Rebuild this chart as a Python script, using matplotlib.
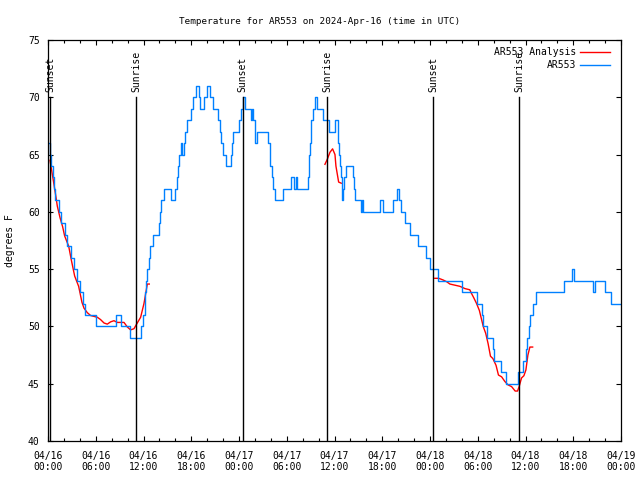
import matplotlib
matplotlib.use('Agg')
import matplotlib.pyplot as plt
import numpy as np

# hours since 2024-04-16 00:00 UTC
obs_hours = [0.0, 0.25, 0.42, 0.6, 0.75, 0.92, 1.35, 1.68, 2.09, 2.43, 2.95, 3.27, 3.68, 4.05, 4.36, 4.69,
             5.99, 8.5, 9.13, 10.3, 11.73, 11.98, 12.15, 12.23, 12.31, 12.48, 12.65, 12.81, 13.15, 13.9,
             14.07, 14.24, 14.57, 15.41, 15.91, 16.16, 16.33, 16.5, 16.66, 16.83, 17.08, 17.25, 17.45,
             17.92, 18.17, 18.6, 18.93, 19.1, 19.64, 20.0, 20.35, 20.7, 21.4, 21.6, 21.78, 21.95, 22.2,
             22.36, 22.95, 23.12, 23.28, 24.0, 24.3, 24.45, 24.7, 25.5, 25.65, 25.8, 26.05, 26.2, 27.7,
             27.85, 27.95, 28.1, 28.3, 28.55, 29.5, 30.5, 30.85, 31.15, 31.35, 32.7, 32.85, 32.95, 33.1,
             33.3, 33.5, 33.85, 34.6, 35.3, 36.05, 36.4, 36.5, 36.6, 36.7, 36.8, 36.9, 37.0, 37.1, 37.25,
             37.5, 38.35, 38.45, 38.55, 39.3, 39.4, 39.55, 41.7, 42.05, 43.4, 43.9, 44.15, 44.3, 44.85,
             45.5, 46.5, 47.45, 48.0, 49.05, 52.0, 53.85, 54.5, 54.7, 55.2, 55.95, 56.1, 56.9, 57.6,
             59.0, 59.7, 60.05, 60.2, 60.45, 60.6, 60.9, 61.3, 64.8, 65.9, 66.15, 68.5, 68.75, 70.0,
             70.7, 71.95]
obs_temps = [66, 65, 64, 63, 62, 61, 60, 59, 58, 57, 56, 55, 54, 53, 52, 51,
             50, 51, 50, 49, 50, 51, 52, 53, 54, 55, 56, 57, 58, 59,
             60, 61, 62, 61, 62, 63, 64, 65, 66, 65, 66, 67, 68,
             69, 70, 71, 70, 69, 70, 71, 70, 69, 68, 67, 66, 65, 65,
             64, 65, 66, 67, 68, 69, 70, 69, 68, 69, 68, 66, 67, 66,
             65, 64, 63, 62, 61, 62, 63, 62, 63, 62, 63, 65, 66, 68,
             69, 70, 69, 68, 67, 68, 67, 66, 65, 64, 63, 62, 61, 62, 63,
             64, 63, 62, 61, 60, 61, 60, 61, 60, 61, 62, 61, 60, 59,
             58, 57, 56, 55, 54, 53, 52, 51, 50, 49, 48, 47, 46, 45,
             46, 47, 48, 49, 50, 51, 52, 53, 54, 55, 54, 53, 54, 53,
             52, 52]

ana1_hours = [0.25, 0.42, 0.75, 1.0, 1.17, 1.51, 1.84, 2.09, 2.6, 2.93, 3.35, 3.85, 4.27, 4.52, 4.94,
              5.36, 6.2, 6.6, 7.04, 7.45, 7.87, 8.29, 8.71, 9.55, 9.97, 10.38, 10.8, 11.22, 11.64,
              12.06, 12.48, 12.73]
ana1_temps = [64.5, 63.8, 62.4, 61.3, 60.5, 59.5, 58.7, 57.9, 57.0, 55.8, 54.4, 53.5, 52.1, 51.6, 51.2,
              50.95, 50.8, 50.6, 50.3, 50.2, 50.4, 50.5, 50.35, 50.35, 49.95, 49.7, 49.8, 50.3, 50.8,
              52.0, 53.7, 53.7]
ana2_hours = [34.8, 35.1, 35.43, 35.76, 36.06, 36.18, 36.35, 36.52, 36.85]
ana2_temps = [64.15, 64.6, 65.2, 65.5, 65.0, 64.0, 63.3, 62.6, 62.5]
ana3_hours = [48.6, 49.1, 49.66, 50.1, 50.5, 51.13, 51.76, 52.4, 53.0, 53.2, 53.5, 53.85, 54.2, 54.5,
              54.7, 55.0, 55.3, 55.6, 55.9, 56.3, 56.6, 57.0, 57.4, 57.8, 58.25, 58.7, 59.0, 59.2,
              59.5, 59.8, 60.05, 60.3, 60.55, 60.9]
ana3_temps = [54.2, 54.2, 54.05, 53.9, 53.7, 53.6, 53.5, 53.3, 53.2, 52.9, 52.5, 52.0, 51.4, 50.55,
              49.97, 49.4, 48.5, 47.4, 47.2, 46.6, 45.76, 45.6, 45.2, 44.9, 44.75, 44.36, 44.36, 44.75,
              45.5, 45.7, 46.2, 47.5, 48.2, 48.2]

sun_hours = [0.25, 11.1, 24.45, 35.1, 48.4, 59.2]
sun_labels = ['Sunset', 'Sunrise', 'Sunset', 'Sunrise', 'Sunset', 'Sunrise']

tick_hours = list(range(0, 73, 6))
tick_labels = ['04/16\n00:00', '04/16\n06:00', '04/16\n12:00', '04/16\n18:00',
               '04/17\n00:00', '04/17\n06:00', '04/17\n12:00', '04/17\n18:00',
               '04/18\n00:00', '04/18\n06:00', '04/18\n12:00', '04/18\n18:00',
               '04/19\n00:00']

plt.rcParams['font.family'] = ['DejaVu Sans Mono']
plt.rcParams['font.size'] = 7

fig = plt.figure(figsize=(6.4, 4.8), dpi=100)
ax = fig.add_axes([48/640, 39/480, 573/640, 401/480])

red = '#ff0000'
blue = '#0080ff'

ax.plot(ana1_hours, ana1_temps, color=red, lw=1.0, label='AR553 Analysis')
ax.plot(ana2_hours, ana2_temps, color=red, lw=1.0)
ax.plot(ana3_hours, ana3_temps, color=red, lw=1.0)
ax.step(obs_hours, obs_temps, where='post', color=blue, lw=1.0, label='AR553')

for h, name in zip(sun_hours, sun_labels):
    ax.plot([h, h], [40, 70], color='black', lw=1.0)
    ax.text(h, 70.45, name, rotation=90, ha='center', va='bottom')

ax.set_xlim(0, 72)
ax.set_ylim(40, 75)
ax.set_xticks(tick_hours)
ax.set_xticklabels(tick_labels)
ax.set_xticks(range(0, 73, 2), minor=True)
ax.set_yticks(range(40, 76, 5))
ax.tick_params(which='both', direction='in', top=True, right=True, width=0.8)
ax.tick_params(which='major', length=3.5)
ax.tick_params(which='minor', length=2)
ax.tick_params(axis='x', pad=7)
ax.tick_params(axis='y', pad=6)
for s in ax.spines.values():
    s.set_linewidth(0.9)

ax.set_ylabel('degrees F', labelpad=9)
fig.suptitle('Temperature for AR553 on 2024-Apr-16 (time in UTC)', y=0.965, fontsize=6.7)

ax.legend(loc='upper right', frameon=False, markerfirst=False, handlelength=3.1,
          labelspacing=0.3, borderaxespad=0.35, handletextpad=0.45,
          bbox_to_anchor=(0.994, 1.0))

fig.savefig('out.png', dpi=100)
